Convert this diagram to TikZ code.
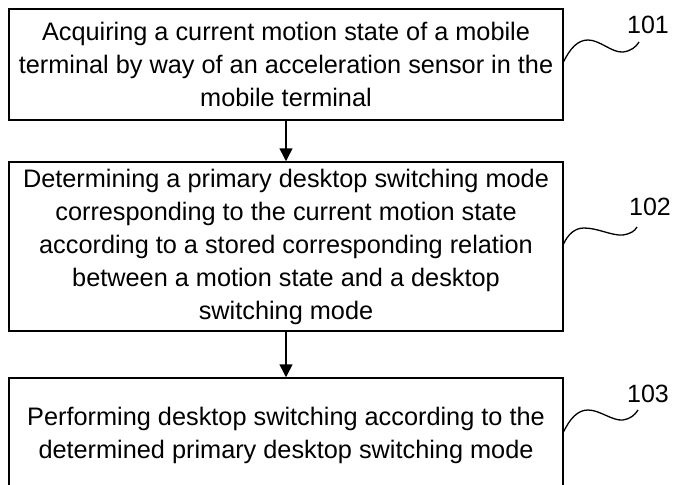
\documentclass[tikz,border=0pt]{standalone}
\usepackage{fontspec}
\setmainfont{Liberation Sans}
\usetikzlibrary{arrows.meta}
\begin{document}
\begin{tikzpicture}[x=1pt,y=-1pt,
  stepbox/.style={draw,line width=1.5pt,rectangle,minimum width=554pt,align=center,inner sep=0pt,font=\fontsize{25.3}{33}\selectfont},
  flow/.style={line width=1.5pt,-{Triangle[width=13pt,length=13pt]}},
  squig/.style={line width=1.3pt},
  lbl/.style={font=\fontsize{25}{30}\selectfont,inner sep=0pt}]
\useasboundingbox (0,0) rectangle (676,484);
\fill[white] (0,0) rectangle (676,484);
\node[stepbox,minimum height=111pt] (b1) at (286,64.5) {Acquiring a current motion state of a mobile\\terminal by way of an acceleration sensor in the\\mobile terminal};
\node[stepbox,minimum height=169pt] (b2) at (286,246.5) {Determining a primary desktop switching mode\\corresponding to the current motion state\\according to a stored corresponding relation\\between a motion state and a desktop\\switching mode};
\node[stepbox,minimum height=114pt] (b3) at (286,435) {Performing desktop switching according to the\\determined primary desktop switching mode};
\draw[flow] (b1) -- (b2);
\draw[flow] (b2) -- (b3);
\node[lbl] (l1) at (648,25) {101};
\node[lbl] (l2) at (650,207) {102};
\node[lbl] (l3) at (648,394) {103};
\coordinate (s1) at (563,63);
\coordinate (e1) at (639,42);
\coordinate (s2) at (563,245);
\coordinate (e2) at (637,227);
\coordinate (s3) at (563,433);
\coordinate (e3) at (638,410);
\draw[squig] (s1) .. controls (570,48) and (578,40) .. (588,40) .. controls (600,40) and (612,53) .. (623,52) .. controls (631,51) and (636,47) .. (e1);
\draw[squig] (s2) .. controls (568,234) and (575,228) .. (584,228) .. controls (598,228) and (612,236) .. (623,235) .. controls (630,234) and (635,231) .. (e2);
\draw[squig] (s3) .. controls (570,418) and (578,410) .. (588,410) .. controls (600,410) and (612,421) .. (623,420) .. controls (630,419) and (635,415) .. (e3);
\end{tikzpicture}
\end{document}
